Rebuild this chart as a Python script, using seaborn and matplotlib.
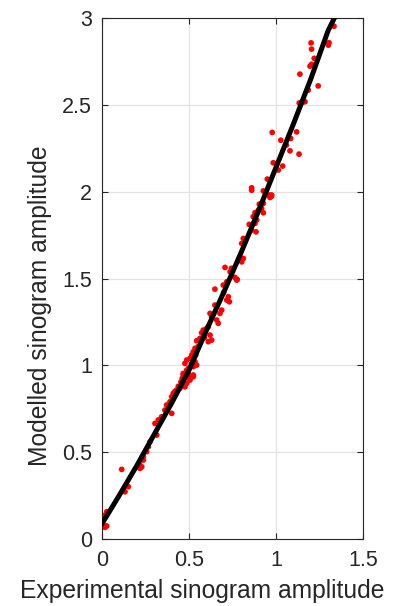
"""Modelled vs experimental sinogram amplitude: red scatter with a black fit curve."""
import matplotlib
matplotlib.use("Agg")
import matplotlib.pyplot as plt
import pandas as pd
import seaborn as sns

# Scatter points (experimental, modelled)
exp_amp = [
    1.334, 1.202, 1.205, 1.301, 1.305, 1.205, 1.196, 1.138, 1.243, 1.186, 1.157, 1.134, 1.167,
    0.979, 1.119, 1.028, 1.085, 1.081, 1.133, 0.985, 1.039, 1.014, 0.951, 0.861, 0.928,
    0.967, 0.975, 0.945, 0.861, 0.937, 0.976, 0.966, 0.928, 0.918, 0.928, 0.899, 0.880,
    0.870, 0.890, 0.880, 0.847, 0.861, 0.886, 0.813, 0.804, 0.708, 0.737, 0.765, 0.778,
    0.804, 0.813, 0.650, 0.698, 0.718, 0.775, 0.727, 0.718, 0.733, 0.650, 0.689, 0.679,
    0.622, 0.631, 0.660, 0.669, 0.612, 0.603, 0.583, 0.574, 0.622, 0.631, 0.612, 0.545,
    0.564, 0.536, 0.526, 0.517, 0.507, 0.536, 0.545, 0.526, 0.488, 0.478, 0.488, 0.497,
    0.468, 0.526, 0.507, 0.468, 0.497, 0.526, 0.507, 0.488, 0.478, 0.449, 0.430, 0.411,
    0.402, 0.392, 0.373, 0.363, 0.402, 0.325, 0.306, 0.344, 0.316, 0.277, 0.268, 0.239,
    0.220, 0.230, 0.115, 0.220, 0.239, 0.258, 0.153, 0.134, 0.029, 0.019, 0.009, 0.019,
    0.004, 0.029, 0.455, 0.462, 0.440, 0.420, 0.515, 0.500, 0.540, 0.590, 0.555, 0.700,
    0.745, 0.905, 1.060, 1.220,
]
mod_amp = [
    2.955, 2.859, 2.823, 2.846, 2.860, 2.736, 2.725, 2.679, 2.611, 2.587, 2.519, 2.513, 2.520,
    2.343, 2.346, 2.298, 2.308, 2.237, 2.218, 2.168, 2.149, 2.126, 2.074, 2.024, 2.006,
    1.982, 1.975, 1.985, 2.010, 2.000, 1.982, 1.968, 1.934, 1.905, 1.880, 1.895, 1.880,
    1.857, 1.838, 1.819, 1.813, 1.780, 1.770, 1.732, 1.703, 1.565, 1.540, 1.507, 1.496,
    1.597, 1.617, 1.440, 1.463, 1.482, 1.492, 1.396, 1.377, 1.367, 1.348, 1.319, 1.300,
    1.300, 1.281, 1.262, 1.243, 1.223, 1.214, 1.204, 1.188, 1.175, 1.146, 1.137, 1.142,
    1.156, 1.099, 1.079, 1.060, 1.041, 1.021, 1.002, 0.993, 1.031, 1.012, 0.973, 0.954,
    0.945, 0.935, 0.926, 0.954, 0.935, 0.945, 0.916, 0.897, 0.877, 0.868, 0.858, 0.839,
    0.820, 0.791, 0.772, 0.743, 0.724, 0.686, 0.666, 0.704, 0.599, 0.560, 0.532, 0.474,
    0.426, 0.416, 0.401, 0.407, 0.455, 0.503, 0.301, 0.272, 0.157, 0.138, 0.081, 0.067,
    0.071, 0.075, 0.905, 0.925, 0.880, 0.850, 1.010, 0.985, 1.060, 1.160, 1.110, 1.420,
    1.560, 1.930, 2.270, 2.770,
]

# Fit curve
fit_x = [0.0, 0.1, 0.2, 0.3, 0.4, 0.5, 0.6, 0.7, 0.8, 0.9, 1.0, 1.1, 1.2, 1.3, 1.335]
fit_y = [0.085, 0.25, 0.42, 0.60, 0.78, 0.97, 1.20, 1.42, 1.65, 1.89, 2.14, 2.39, 2.65, 2.93, 3.0]

x_ticks = [0, 0.5, 1, 1.5]
y_ticks = [0, 0.5, 1, 1.5, 2, 2.5, 3]
x_labels = ["0", "0.5", "1", "1.5"]
y_labels = ["0", "0.5", "1", "1.5", "2", "2.5", "3"]

INK = "#262626"

sns.set_theme(style="whitegrid")
plt.rcParams["font.family"] = ["Liberation Sans", "DejaVu Sans"]

pts = pd.DataFrame({"exp": exp_amp, "mod": mod_amp})
fit = pd.DataFrame({"x": fit_x, "y": fit_y})

fig = plt.figure(figsize=(3.98, 6.06), dpi=100)
ax = fig.add_axes([0.2555, 0.1106, 0.6565, 0.859])

sns.scatterplot(data=pts, x="exp", y="mod", ax=ax, color="#ff0000", s=17,
                edgecolor="none", linewidth=0, zorder=2)
sns.lineplot(data=fit, x="x", y="y", ax=ax, color="black", linewidth=3.6,
             sort=False, zorder=3)

ax.set_xlim(0, 1.5)
ax.set_ylim(0, 3)
ax.set_xticks(x_ticks, x_labels)
ax.set_yticks(y_ticks, y_labels)
ax.set_facecolor("white")
ax.grid(True, color="#e3e3e3", linewidth=0.9)
for side in ax.spines.values():
    side.set_visible(True)
    side.set_color(INK)
    side.set_linewidth(0.8)
ax.tick_params(direction="in", length=4, width=0.8, color=INK, labelcolor=INK,
               labelsize=15.5, top=True, right=True, bottom=True, left=True)
ax.tick_params(axis="x", pad=8)
ax.tick_params(axis="y", pad=7)
ax.set_xlabel("Experimental sinogram amplitude", fontsize=17.7, color=INK)
ax.set_ylabel("Modelled sinogram amplitude", fontsize=17.7, color=INK)
# label placement follows the reference (slightly toward the lower left)
ax.xaxis.set_label_coords(0.384, -0.077)
ax.yaxis.set_label_coords(-0.19, 0.448)

fig.savefig("out.png", dpi=100)
